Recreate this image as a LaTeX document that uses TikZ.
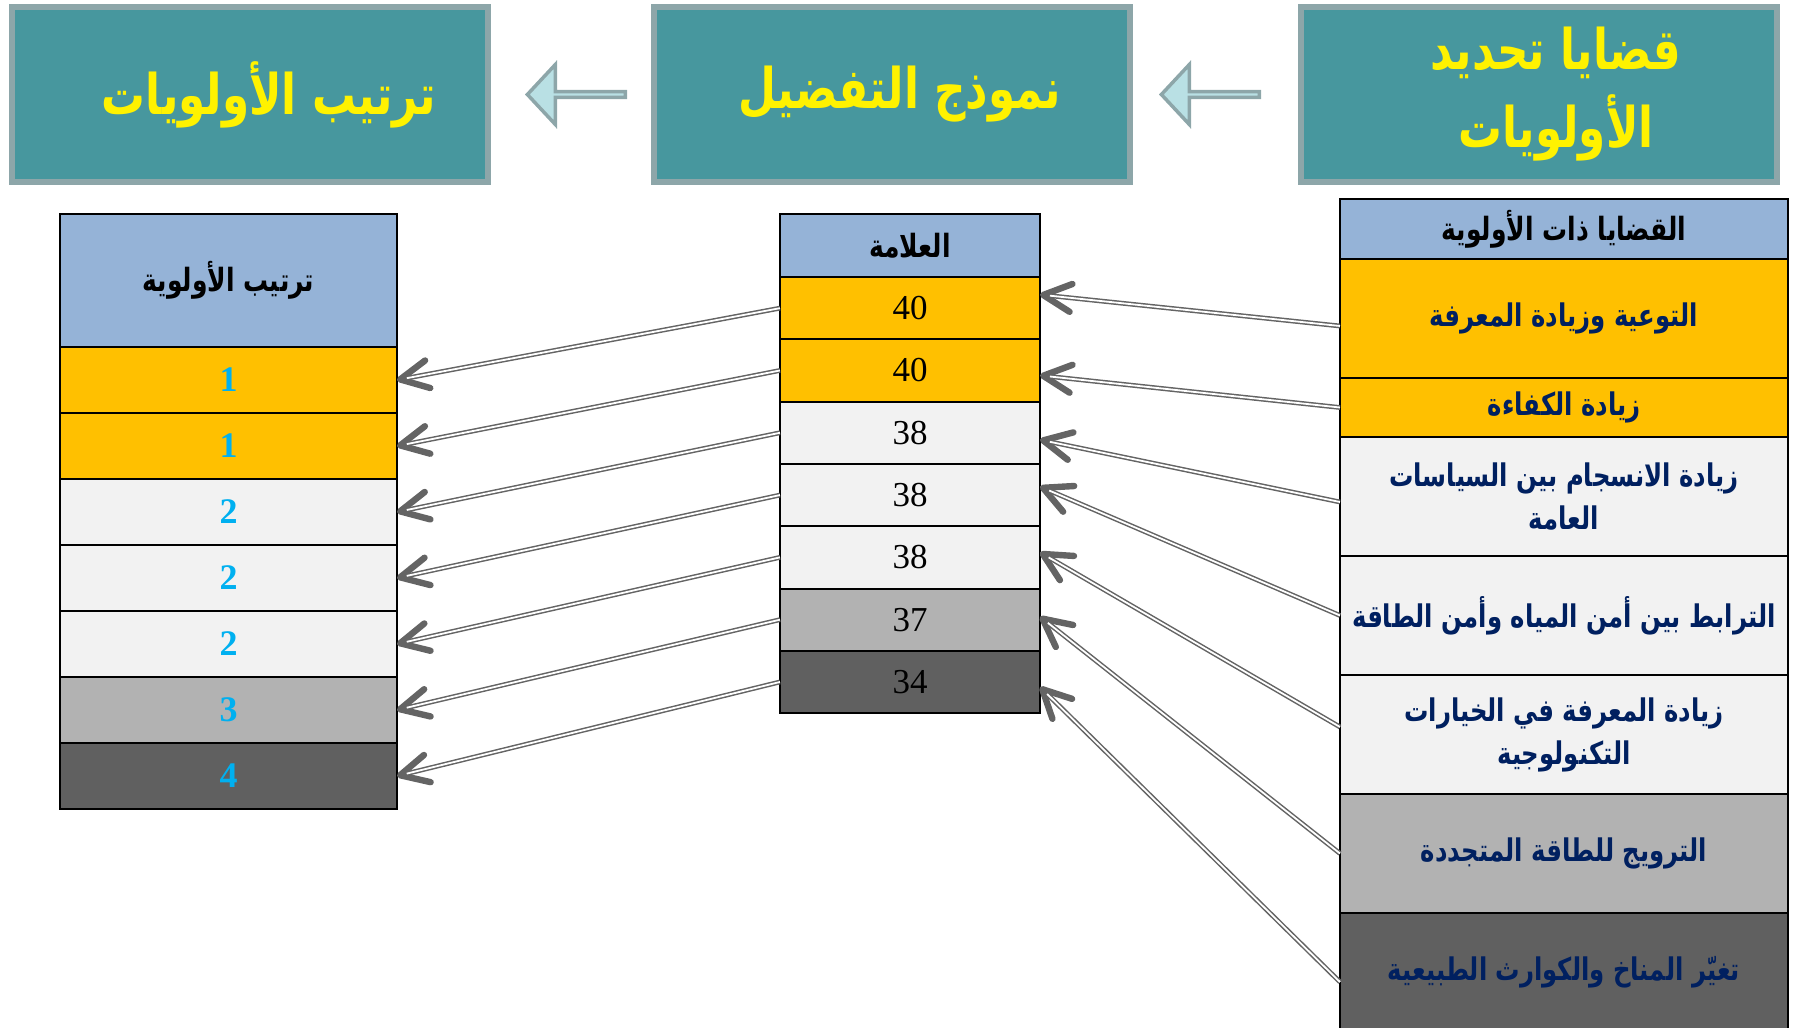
\documentclass[tikz,border=0pt]{standalone}
\usepackage{fontspec}
\setmainfont{Liberation Serif}
\newfontfamily\arabicfont[Script=Arabic, FakeStretch=0.78]{DejaVu Sans}
\TeXXeTstate=1
\usetikzlibrary{arrows.meta,positioning,shapes.arrows}

\definecolor{tealbox}{RGB}{71,151,158}
\definecolor{tealedge}{RGB}{141,166,169}
\definecolor{arrowfill}{RGB}{185,224,228}
\definecolor{headblue}{RGB}{149,179,215}
\definecolor{prioorange}{RGB}{255,192,0}
\definecolor{lightrow}{RGB}{242,242,242}
\definecolor{midrow}{RGB}{178,178,178}
\definecolor{darkrow}{RGB}{96,96,96}
\definecolor{navytext}{RGB}{0,32,96}
\definecolor{ranktext}{RGB}{0,176,240}
\definecolor{linkgrey}{RGB}{100,100,100}

\newcommand{\artxt}[1]{\beginR #1\endR}

\begin{document}
\begin{tikzpicture}[x=0.5pt, y=-0.5pt,
    titlebox/.style={draw=tealedge, line width=2.75pt, fill=tealbox, text=yellow,
        minimum width=238pt, minimum height=87.5pt, anchor=north west,
        outer sep=0pt, align=center,
        font=\arabicfont\bfseries\fontsize{28}{39}\selectfont},
    blockarrow/.style={single arrow, draw=tealedge, line width=1.75pt, fill=arrowfill,
        minimum height=49pt, minimum width=30pt, single arrow head extend=8pt,
        single arrow tip angle=94, shape border rotate=180, inner sep=0pt, anchor=tip},
    cell/.style={draw=black, line width=1pt, outer sep=0pt, inner sep=0pt, align=center},
    headcell/.style={cell, fill=headblue, anchor=north west,
        font=\arabicfont\bfseries\fontsize{16}{21.5}\selectfont},
    rankcell/.style={cell, minimum width=168.5pt, minimum height=33pt, text=ranktext,
        font=\bfseries\fontsize{18}{18}\selectfont},
    markcell/.style={cell, minimum width=130pt, minimum height=31.15pt,
        font=\fontsize{17.5}{17.5}\selectfont},
    issuecell/.style={cell, minimum width=224pt, minimum height=59.5pt, text=navytext,
        font=\arabicfont\bfseries\fontsize{15.6}{21.5}\selectfont},
    link/.style={draw=linkgrey, line width=2.4pt,
        -{Straight Barb[length=14pt, width=14pt, line width=3.2pt, round]},
        postaction={draw=white, line width=0.9pt, arrows=-, shorten >=5pt}}
  ]
    \useasboundingbox (0,0) rectangle (1795,1028);
    \clip (0,0) rectangle (1795,1028);

    % title boxes
    \node[titlebox] (tRank) at (12,7) {\hspace*{19pt}\raisebox{-3.5pt}{\artxt{ترتيب الأولويات}}};
    \node[titlebox] (tModel) at (654,7) {\hspace*{8pt}\raisebox{-3.5pt}{\artxt{نموذج التفضيل}}};
    \node[titlebox] (tIssues) at (1301,7) {\hspace*{17pt}\artxt{قضايا تحديد}\\\hspace*{17pt}\artxt{الأولويات}};

    \node[blockarrow] (aModel) at ([xshift=18.5pt]tRank.east) {};
    \node[blockarrow] (aIssues) at ([xshift=14.5pt]tModel.east) {};

    % issues table
    \node[headcell, minimum width=224pt, minimum height=30pt] (rH) at (1340,199) {\artxt{القضايا ذات الأولوية}};
    \node[issuecell, fill=prioorange, below=0pt of rH] (r1) {\artxt{التوعية وزيادة المعرفة}};
    \node[issuecell, fill=prioorange, minimum height=29.5pt, below=0pt of r1] (r2) {\artxt{زيادة الكفاءة}};
    \node[issuecell, fill=lightrow, below=0pt of r2] (r3) {\artxt{زيادة الانسجام بين السياسات}\\\artxt{العامة}};
    \node[issuecell, fill=lightrow, below=0pt of r3] (r4) {\artxt{الترابط بين أمن المياه وأمن الطاقة}};
    \node[issuecell, fill=lightrow, below=0pt of r4] (r5) {\artxt{زيادة المعرفة في الخيارات}\\\artxt{التكنولوجية}};
    \node[issuecell, fill=midrow, below=0pt of r5] (r6) {\artxt{الترويج للطاقة المتجددة}};
    \node[issuecell, fill=darkrow, below=0pt of r6] (r7) {\artxt{تغيّر المناخ والكوارث الطبيعية}};

    % marks table
    \node[headcell, minimum width=130pt, minimum height=31.5pt] (mH) at (780,214) {\artxt{العلامة}};
    \node[markcell, fill=prioorange, below=0pt of mH] (m1) {40};
    \node[markcell, fill=prioorange, below=0pt of m1] (m2) {40};
    \node[markcell, fill=lightrow, below=0pt of m2] (m3) {38};
    \node[markcell, fill=lightrow, below=0pt of m3] (m4) {38};
    \node[markcell, fill=lightrow, below=0pt of m4] (m5) {38};
    \node[markcell, fill=midrow, below=0pt of m5] (m6) {37};
    \node[markcell, fill=darkrow, below=0pt of m6] (m7) {34};

    % rank table
    \node[headcell, minimum width=168.5pt, minimum height=66.5pt] (lH) at (60,214) {\artxt{ترتيب الأولوية}};
    \node[rankcell, fill=prioorange, below=0pt of lH] (l1) {1};
    \node[rankcell, fill=prioorange, below=0pt of l1] (l2) {1};
    \node[rankcell, fill=lightrow, below=0pt of l2] (l3) {2};
    \node[rankcell, fill=lightrow, below=0pt of l3] (l4) {2};
    \node[rankcell, fill=lightrow, below=0pt of l4] (l5) {2};
    \node[rankcell, fill=midrow, below=0pt of l5] (l6) {3};
    \node[rankcell, fill=darkrow, below=0pt of l6] (l7) {4};

    % links (small offsets as in the hand placed original)
    \foreach \i/\a/\b in {1/-3.75/6.75, 2/0/-2.5, 3/-2.75/-3.5, 4/0/4.25,
                          5/3.75/2.5, 6/0/1.5, 7/-4.75/-2.5} {
        \draw[link] ([yshift=\a pt]r\i.west) -- ([yshift=\b pt]m\i.east);
        \draw[link] (m\i.west) -- (l\i.east);
    }
\end{tikzpicture}
\end{document}
